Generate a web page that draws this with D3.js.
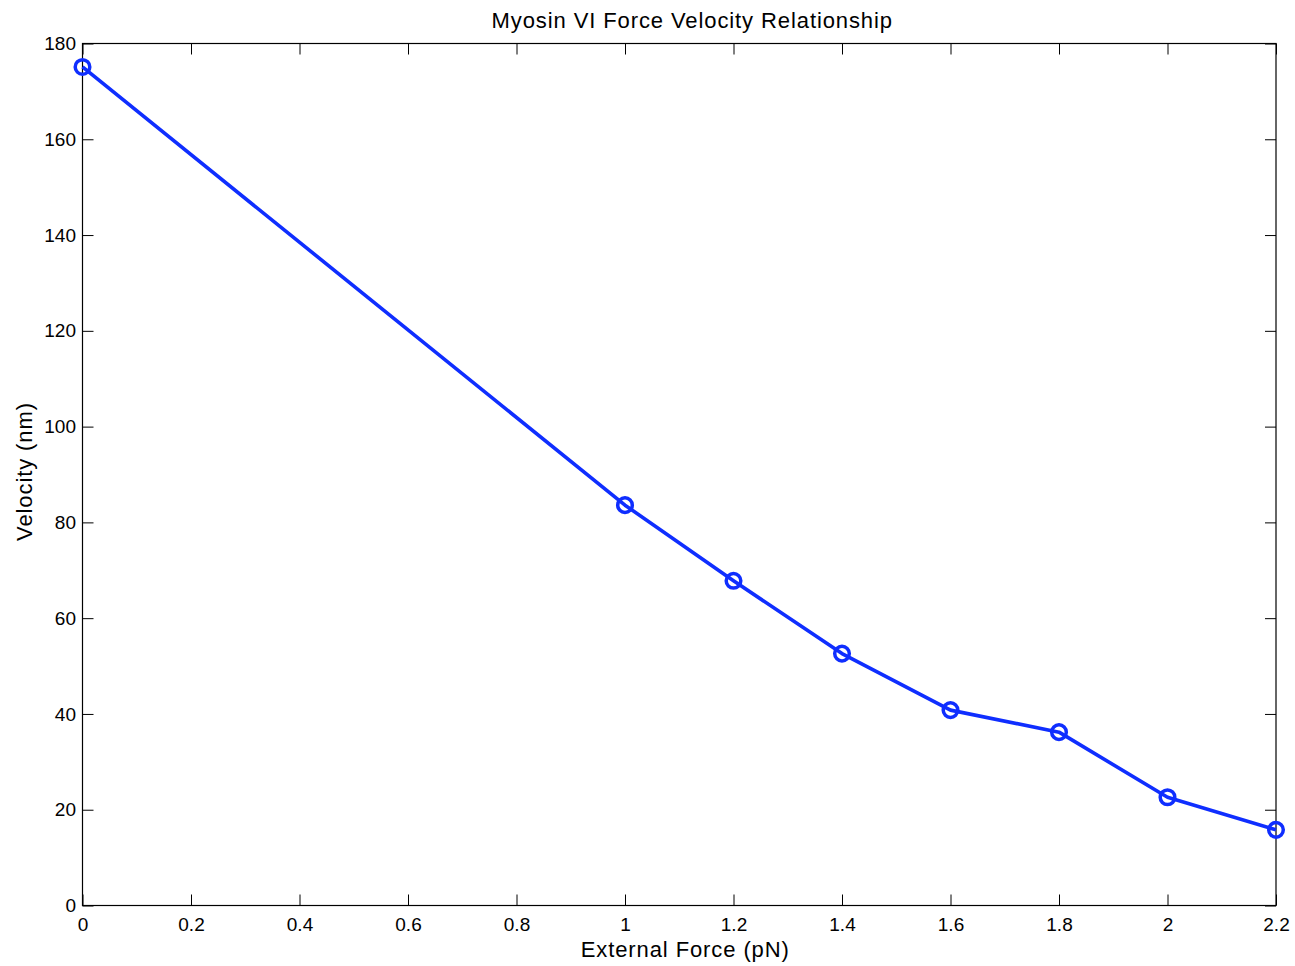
<!DOCTYPE html>
<html>
<head>
<meta charset="utf-8">
<script src="https://cdn.jsdelivr.net/npm/d3@7"></script>
<style>
  html, body { margin: 0; padding: 0; background: #fff; }
  svg { display: block; font-family: "Liberation Sans", Arial, Helvetica, sans-serif; }
</style>
</head>
<body>
<svg id="chart" width="1295" height="966"></svg>
<script>
// External force (pN) and measured velocity (nm)
const force = [0, 1, 1.2, 1.4, 1.6, 1.8, 2, 2.2];
const velocity = [175.1, 83.6, 67.8, 52.6, 40.8, 36.2, 22.6, 15.8];
const xTicks = [0, 0.2, 0.4, 0.6, 0.8, 1, 1.2, 1.4, 1.6, 1.8, 2, 2.2];
const yTicks = [0, 20, 40, 60, 80, 100, 120, 140, 160, 180];

const W = 1295, H = 966;
const margin = { left: 82.5, right: W - 1276, top: 43.5, bottom: H - 905.5 };
const svg = d3.select("#chart");
const iw = W - margin.left - margin.right;
const ih = H - margin.top - margin.bottom;

const x = d3.scaleLinear().domain([0, 2.2]).range([margin.left, margin.left + iw]);
const y = d3.scaleLinear().domain([0, 180]).range([margin.top + ih, margin.top]);

const fmt = d => String(d);
const tickLen = 11;

// Bottom and left axes with inward ticks
const gx = svg.append("g").attr("transform", `translate(0,${margin.top + ih})`)
  .call(d3.axisBottom(x).tickValues(xTicks).tickFormat(fmt).tickSizeInner(-tickLen).tickSizeOuter(0).tickPadding(12));
const gy = svg.append("g").attr("transform", `translate(${margin.left},0)`)
  .call(d3.axisLeft(y).tickValues(yTicks).tickFormat(fmt).tickSizeInner(-tickLen).tickSizeOuter(0).tickPadding(6.5));
// Mirrored top and right ticks without labels
const gt = svg.append("g").attr("transform", `translate(0,${margin.top})`)
  .call(d3.axisTop(x).tickValues(xTicks).tickFormat("").tickSizeInner(-tickLen).tickSizeOuter(0));
const gr = svg.append("g").attr("transform", `translate(${margin.left + iw},0)`)
  .call(d3.axisRight(y).tickValues(yTicks).tickFormat("").tickSizeInner(-tickLen).tickSizeOuter(0));

[gx, gy, gt, gr].forEach(g => {
  g.select(".domain").remove();
  g.selectAll(".tick line").attr("stroke", "#000").attr("stroke-width", 1);
  g.selectAll(".tick text").attr("fill", "#000").style("font-size", "19px").style("font-family", "'Liberation Sans', Arial, sans-serif");
});
gx.selectAll(".tick text").attr("dy", "0.71em");

// Box around plot area
svg.append("rect")
  .attr("x", margin.left).attr("y", margin.top)
  .attr("width", iw).attr("height", ih)
  .attr("fill", "none").attr("stroke", "#000").attr("stroke-width", 1.2);

const data = force.map((f, i) => ({ f, v: velocity[i] }));
const color = "#0f2eff";

svg.append("path")
  .datum(data)
  .attr("fill", "none")
  .attr("stroke", color)
  .attr("stroke-width", 3.6)
  .attr("stroke-linejoin", "round")
  .attr("d", d3.line().x(d => x(d.f)).y(d => y(d.v)));

svg.append("g").selectAll("circle")
  .data(data).join("circle")
  .attr("cx", d => x(d.f)).attr("cy", d => y(d.v))
  .attr("r", 7.3)
  .attr("fill", "none")
  .attr("stroke", color)
  .attr("stroke-width", 3.5);

// Title and axis labels
const labelStyle = sel => sel
  .attr("text-anchor", "middle")
  .style("font-size", "22px")
  .style("letter-spacing", "0.9px");

svg.append("text")
  .attr("x", margin.left + iw / 2 + 13).attr("y", 28)
  .call(labelStyle)
  .text("Myosin VI Force Velocity Relationship");

svg.append("text")
  .attr("x", margin.left + iw / 2 + 6).attr("y", 957)
  .call(labelStyle)
  .text("External Force (pN)");

svg.append("text")
  .attr("transform", `translate(32,${margin.top + ih / 2 - 3}) rotate(-90)`)
  .call(labelStyle)
  .text("Velocity (nm)");
</script>
</body>
</html>
